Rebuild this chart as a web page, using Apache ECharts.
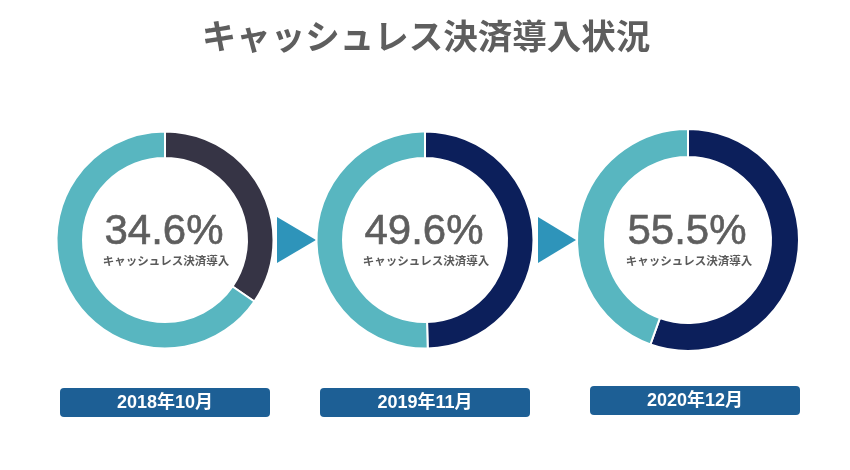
<!DOCTYPE html>
<html><head><meta charset="utf-8">
<script src="https://cdn.jsdelivr.net/npm/echarts@6/dist/echarts.min.js"></script>
<style>html,body{margin:0;padding:0;background:#fff}#c{width:850px;height:470px}</style>
</head><body><div id="c"></div>
<script>
const titleText = 'キャッシュレス決済導入状況';
const periods = ['2018年10月', '2019年11月', '2020年12月'];
const cashlessRate = [34.6, 49.6, 55.5];
const subLabel = 'キャッシュレス決済導入';
const rateColors = ['#363445', '#0C1F5B', '#0C1F5B'];
const restColor = '#58B6C0';

const centers = [[165, 240], [425, 240], [688, 240]];
const radii = [[82, 108.5], [82, 108.5], [83, 111]];
const boxes = [[60, 388], [320, 388], [590, 386]];
const arrows = [[277, 316], [538, 576]];
const FONT = "'Liberation Sans','Noto Sans CJK JP',sans-serif";

const series = cashlessRate.map((v, i) => ({
  type: 'pie',
  center: centers[i],
  radius: radii[i],
  startAngle: 90,
  clockwise: true,
  silent: true,
  label: { show: false },
  labelLine: { show: false },
  itemStyle: { borderColor: '#fff', borderWidth: 2 },
  data: [
    { value: v, itemStyle: { color: rateColors[i] } },
    { value: +(100 - v).toFixed(1), itemStyle: { color: restColor } }
  ]
}));

const graphic = [];
cashlessRate.forEach((v, i) => {
  graphic.push({
    type: 'text', x: centers[i][0] - 1, y: centers[i][1] - 8,
    style: { text: v.toFixed(1) + '%', font: "42px " + FONT, fill: '#5e5e5e', stroke: '#5e5e5e', lineWidth: 0.6, textAlign: 'center', textVerticalAlign: 'middle' }
  });
  graphic.push({
    type: 'text', x: centers[i][0] + 1, y: centers[i][1] + 21,
    style: { text: subLabel, font: "bold 11.5px 'Noto Sans CJK JP',sans-serif", fill: '#5a5a5a', textAlign: 'center', textVerticalAlign: 'middle' }
  });
});
periods.forEach((p, i) => {
  graphic.push({
    type: 'rect', shape: { x: boxes[i][0], y: boxes[i][1], width: 210, height: 29, r: 4 },
    style: { fill: '#1D5F95' }
  });
  graphic.push({
    type: 'text', x: boxes[i][0] + 105, y: boxes[i][1] + 15,
    style: { text: p, font: "bold 18px " + FONT, fill: '#fff', textAlign: 'center', textVerticalAlign: 'middle' }
  });
});
arrows.forEach(a => {
  graphic.push({
    type: 'polygon', shape: { points: [[a[0], 217], [a[1], 240], [a[0], 263]] },
    style: { fill: '#2E94BA' }
  });
});
graphic.push({
  type: 'text', x: 426, y: 36,
  style: { text: titleText, font: "bold 34.5px 'Noto Sans CJK JP',sans-serif", fill: '#5e5e5e', textAlign: 'center', textVerticalAlign: 'middle' }
});

const chart = echarts.init(document.getElementById('c'), null, { renderer: 'canvas' });
chart.setOption({
  backgroundColor: '#fff',
  animation: false,
  series: series,
  graphic: graphic
});
</script></body></html>
